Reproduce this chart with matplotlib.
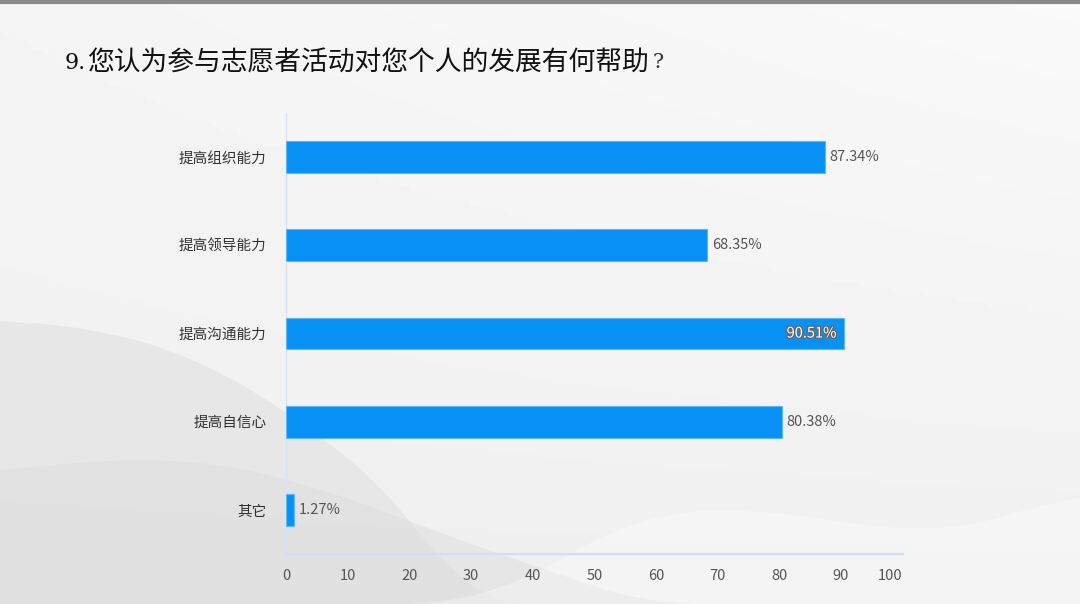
import matplotlib.pyplot as plt
import matplotlib.patheffects as pe
import numpy as np

plt.rcParams['font.family'] = ['Noto Sans CJK SC', 'DejaVu Sans']

# data
title = "您认为参与志愿者活动对您个人的发展有何帮助"
categories = ["提高组织能力", "提高领导能力", "提高沟通能力", "提高自信心", "其它"]
values = [87.34, 68.35, 90.51, 80.38, 1.27]
labels = ["87.34%", "68.35%", "90.51%", "80.38%", "1.27%"]
xticks = [0, 10, 20, 30, 40, 50, 60, 70, 80, 90, 100]

fig = plt.figure(figsize=(10.8, 6.04), dpi=100)


def smooth(a, k=41):
    pad = np.pad(a, k // 2, mode="edge")
    return np.convolve(pad, np.ones(k) / k, mode="valid")


# background: light gray gradient with soft swooshes
bg = fig.add_axes([0, 0, 1, 1])
bg.set_xlim(0, 1)
bg.set_ylim(0, 1)
bg.axis("off")
gx, gy = np.meshgrid(np.linspace(0, 1, 200), np.linspace(0, 1, 120))
grad = 0.958 - 0.02 * (1 - gy) + 0.02 * gx * gy
bg.imshow(grad, extent=[0, 1, 0, 1], origin="lower", cmap="gray",
          vmin=0, vmax=1, aspect="auto", zorder=0)

xs = np.linspace(0, 1, 400)
# big gray swoosh from the left
top1 = smooth(np.interp(xs, [0, 0.093, 0.185, 0.278, 0.37, 0.435, 1],
                        [0.47, 0.455, 0.405, 0.305, 0.172, 0.0, 0.0]))
bg.fill_between(xs, 0, top1, color="#e3e3e3", alpha=0.7, lw=0, zorder=1)
# inner lower hill
top2 = smooth(np.interp(xs, [0, 0.1, 0.2, 0.3, 0.45, 0.6, 1],
                        [0.22, 0.24, 0.235, 0.19, 0.09, 0.0, 0.0]))
bg.fill_between(xs, 0, top2, color="#dcdcdc", alpha=0.45, lw=0, zorder=1)
# soft white wave on the right
wtop = smooth(np.interp(xs, [0, 0.45, 0.6, 0.75, 0.85, 0.95, 1],
                        [0.0, 0.0, 0.16, 0.15, 0.11, 0.15, 0.19]), 61)
bg.fill_between(xs, 0, wtop, color="white", alpha=0.3, lw=0, zorder=1)
# top border line
bg.axhline(0.997, color="#8a8a8a", lw=3, zorder=2)

fig.text(0.060, 0.896, "9.", fontsize=16, family="DejaVu Serif",
         color="#111111", va="center")
fig.text(0.081, 0.896, title, fontsize=19.3, color="#111111", va="center",
         fontweight="medium")
fig.text(0.604, 0.896, "?", fontsize=15, family="DejaVu Serif",
         color="#333333", va="center")

ax = fig.add_axes([0.2648, 0.0828, 0.571, 0.730])
ax.patch.set_alpha(0)
y = np.arange(len(categories))
ax.barh(y, values, height=0.36, color="#0791f5", edgecolor="#5cb8fb",
        linewidth=0.8, zorder=3)
ax.set_xlim(0, 100)
ax.set_ylim(len(categories) - 0.5, -0.5)
ax.set_yticks(y)
ax.set_yticklabels(categories, fontsize=10.5, color="#333333")
ax.set_xticks(xticks)
ax.set_xticklabels([str(t) for t in xticks], fontsize=10.5, color="#555555")
ax.get_xticklabels()[-1].set_ha("right")
ax.tick_params(axis="both", length=0)
ax.tick_params(axis="y", pad=14)
ax.tick_params(axis="x", pad=11)
for s in ["top", "right"]:
    ax.spines[s].set_visible(False)
ax.spines["left"].set_color("#dde3ee")
ax.spines["left"].set_linewidth(1)
ax.spines["bottom"].set_color("#d5deeb")
ax.spines["bottom"].set_linewidth(1.6)

for i, (v, lab) in enumerate(zip(values, labels)):
    if v >= 90:
        ax.text(v - 1.2, i, lab, ha="right", va="center", fontsize=10.5,
                color="white", zorder=4,
                path_effects=[pe.withStroke(linewidth=1.8, foreground="#666666")])
    else:
        ax.text(v + 0.8, i, lab, ha="left", va="center", fontsize=10.5,
                color="#555555", zorder=4)

fig.savefig("out.png", dpi=100)
